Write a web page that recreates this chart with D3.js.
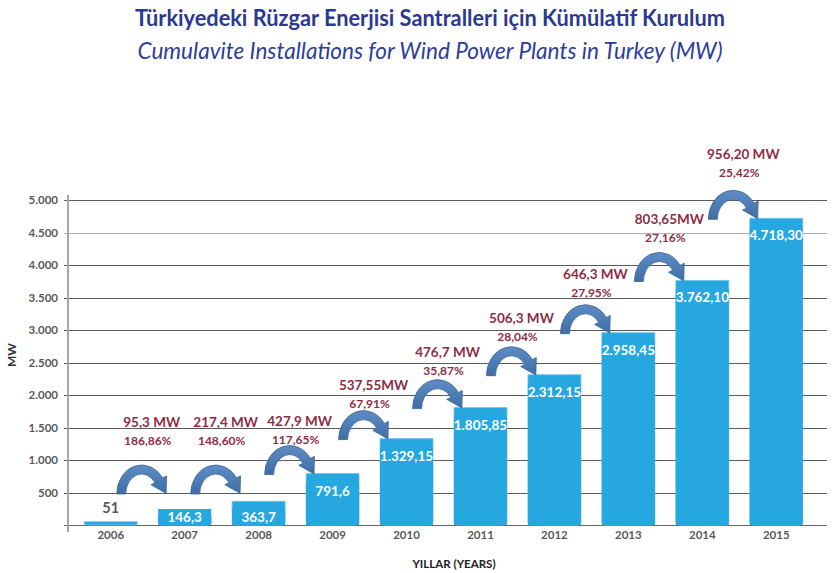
<!DOCTYPE html>
<html>
<head>
<meta charset="utf-8">
<script src="https://cdn.jsdelivr.net/npm/d3@7"></script>
<style>
  html, body { margin: 0; padding: 0; background: #fff; }
  svg { display: block; }
  text { font-family: Lato, "Open Sans", sans-serif; }
</style>
</head>
<body>
<svg id="chart" width="840" height="573"></svg>
<script>
// ---- data ----
const years = ["2006","2007","2008","2009","2010","2011","2012","2013","2014","2015"];
const capacity = [51, 146.3, 363.7, 791.6, 1329.15, 1805.85, 2312.15, 2958.45, 3762.10, 4718.30];
const capacityLabels = ["51","146,3","363,7","791,6","1.329,15","1.805,85","2.312,15","2.958,45","3.762,10","4.718,30"];
const additionLabels = ["95,3 MW","217,4 MW","427,9 MW","537,55MW","476,7 MW","506,3 MW","646,3 MW","803,65MW","956,20 MW"];
const growthLabels = ["186,86%","148,60%","117,65%","67,91%","35,87%","28,04%","27,95%","27,16%","25,42%"];
const yTicks = [0,500,1000,1500,2000,2500,3000,3500,4000,4500,5000];
const yTickLabels = ["","500","1.000","1.500","2.000","2.500","3.000","3.500","4.000","4.500","5.000"];
const titleText = "Türkiyedeki Rüzgar Enerjisi Santralleri için Kümülatif Kurulum";
const subtitleText = "Cumulavite Installations for Wind Power Plants in Turkey (MW)";
const yAxisTitle = "MW";
const xAxisTitle = "YILLAR (YEARS)";

// ---- layout ----
const svg = d3.select("#chart");
const plotLeft = 68, plotRight = 827, plotTop = 200, plotBottom = 525;
const x = d3.scaleBand().domain(years).range([68, 819]).paddingInner(0.284).paddingOuter(0.22);
const y = d3.scaleLinear().domain([0, 5000]).range([plotBottom, plotTop]);

const barColor = "#27A7E0";
const labelRed = "#8E2C45";
const axisGray = "#595959";

function fitText(sel, target) {
  sel.attr("textLength", target).attr("lengthAdjust", "spacingAndGlyphs");
}

// titles
const t1 = svg.append("text").attr("x", 430).attr("y", 26).attr("text-anchor", "middle")
  .attr("font-size", 22.5).attr("font-weight", 700).attr("fill", "#2B3990").text(titleText);
fitText(t1, 590);
const t2 = svg.append("text").attr("x", 430).attr("y", 59).attr("text-anchor", "middle")
  .attr("font-size", 22.5).attr("font-style", "italic").attr("fill", "#2E3D9A").text(subtitleText);
fitText(t2, 585);

// gridlines
const grid = svg.append("g");
yTicks.forEach((v) => {
  grid.append("line").attr("x1", 64).attr("x2", plotRight)
    .attr("y1", Math.round(y(v)) + 0.5).attr("y2", Math.round(y(v)) + 0.5)
    .attr("stroke", v === 4500 ? "#b0b0b0" : (v === 0 ? "#666" : "#5a5a5a"))
    .attr("stroke-width", v === 0 ? 1.2 : 1);
});

// y axis (D3 axis for tick labels)
const yAxis = d3.axisLeft(y).tickValues(yTicks).tickSize(0).tickPadding(10)
  .tickFormat((d, i) => yTickLabels[i]);
const yg = svg.append("g").attr("transform", `translate(${plotLeft},0)`).call(yAxis);
yg.select(".domain").remove();
yg.selectAll("text").attr("font-family", "Lato, sans-serif").attr("font-size", 11.5)
  .attr("font-weight", 700).attr("fill", axisGray);
svg.append("line").attr("x1", plotLeft).attr("x2", plotLeft).attr("y1", 195).attr("y2", 532)
  .attr("stroke", "#a6a6a6").attr("stroke-width", 2);

// y axis title
svg.append("text").attr("transform", "translate(16,355) rotate(-90)").attr("text-anchor", "middle")
  .attr("font-size", 12).attr("font-weight", 700).attr("fill", "#333").text(yAxisTitle);

// x axis labels
const xAxis = d3.axisBottom(x).tickSize(0).tickPadding(6);
const xg = svg.append("g").attr("transform", `translate(0,${plotBottom})`).call(xAxis);
xg.select(".domain").remove();
xg.selectAll("text").attr("font-family", "Lato, sans-serif").attr("font-size", 11.5)
  .attr("font-weight", 700).attr("fill", axisGray);

svg.append("text").attr("x", 454).attr("y", 568).attr("text-anchor", "middle")
  .attr("font-size", 11.5).attr("font-weight", 700).attr("fill", "#222").text(xAxisTitle);

// bars
function barPath(x0, y0, w, h, r) {
  r = Math.min(r, h / 2, w / 2);
  return `M${x0},${y0}H${x0 + w}V${y0 + h - r}Q${x0 + w},${y0 + h} ${x0 + w - r},${y0 + h}` +
         `H${x0 + r}Q${x0},${y0 + h} ${x0},${y0 + h - r}Z`;
}
const bars = svg.append("g");
years.forEach((yr, i) => {
  const bx = x(yr), bw = x.bandwidth(), by = y(capacity[i]);
  bars.append("path").attr("d", barPath(bx, by, bw, plotBottom - by, 3))
    .attr("fill", barColor).attr("stroke", "#6cc3ee").attr("stroke-width", 0.8);
});

// value labels
const vl = svg.append("g");
years.forEach((yr, i) => {
  const cx = x(yr) + x.bandwidth() / 2, by = y(capacity[i]);
  if (i === 0) {
    vl.append("text").attr("x", cx).attr("y", by - 9).attr("text-anchor", "middle")
      .attr("font-size", 14.5).attr("font-weight", 700).attr("fill", axisGray).text(capacityLabels[i]);
    return;
  }
  const cy = Math.min(by + 17, 517);
  vl.append("rect").attr("x", x(yr)).attr("y", cy - 8).attr("width", x.bandwidth())
    .attr("height", plotBottom - (cy - 8)).attr("fill", barColor);
  vl.append("text").attr("x", cx).attr("y", cy + 5).attr("text-anchor", "middle")
    .attr("font-size", 13.5).attr("font-weight", 700).attr("fill", "#fff").text(capacityLabels[i]);
});

// arrows
const defs = svg.append("defs");
const grad = defs.append("linearGradient").attr("id", "ag").attr("x1", 0).attr("y1", 0).attr("x2", 0).attr("y2", 1);
grad.append("stop").attr("offset", "0%").attr("stop-color", "#5E8CC6");
grad.append("stop").attr("offset", "100%").attr("stop-color", "#3F6EA6");

function arrowPath() {
  const cx = 25, cy = 30, rxo = 25, ryo = 29, rxi = 16, ryi = 20;
  const t = 56 * Math.PI / 180;
  const s = Math.sin(t), c = Math.cos(t);
  const po = [cx + rxo * s, cy - ryo * c];
  const pi = [cx + rxi * s, cy - ryi * c];
  const m = [(po[0] + pi[0]) / 2, (po[1] + pi[1]) / 2];
  const rxm = (rxo + rxi) / 2, rym = (ryo + ryi) / 2;
  let u = [rxm * c, rym * s];
  const ul = Math.hypot(u[0], u[1]); u = [u[0] / ul, u[1] / ul];
  const n = [u[1], -u[0]];
  const hw = 9, hl = 15;
  const wo = [m[0] + n[0] * hw, m[1] + n[1] * hw];
  const wi = [m[0] - n[0] * hw, m[1] - n[1] * hw];
  const tip = [m[0] + u[0] * hl, m[1] + u[1] * hl];
  return `M${cx - rxo},${cy}A${rxo},${ryo} 0 0 1 ${po[0]},${po[1]}` +
    `L${wo[0]},${wo[1]}L${tip[0]},${tip[1]}L${wi[0]},${wi[1]}L${pi[0]},${pi[1]}` +
    `A${rxi},${ryi} 0 0 0 ${cx - rxi},${cy}Z`;
}
const ap = arrowPath();

const ann = svg.append("g");
for (let i = 0; i < additionLabels.length; i++) {
  const src = years[i];
  const sx = x(src) + x.bandwidth() / 2;
  const topDst = y(capacity[i + 1]);
  const arrowBottom = Math.min(topDst + 1, 494);
  ann.append("path").attr("d", ap)
    .attr("transform", `translate(${sx + 6},${arrowBottom - 30})`)
    .attr("fill", "url(#ag)").attr("stroke", "#3A6294").attr("stroke-width", 0.8);
  const ly = Math.min(topDst - (50 + 0.003 * capacity[i + 1]), 422);
  ann.append("text").attr("x", sx + 41).attr("y", ly + 5).attr("text-anchor", "middle")
    .attr("font-size", 13.5).attr("font-weight", 700).attr("fill", labelRed).text(additionLabels[i]);
  ann.append("text").attr("x", sx + 37).attr("y", ly + 23).attr("text-anchor", "middle")
    .attr("font-size", 12).attr("font-weight", 700).attr("fill", labelRed).text(growthLabels[i]);
}
</script>
</body>
</html>
